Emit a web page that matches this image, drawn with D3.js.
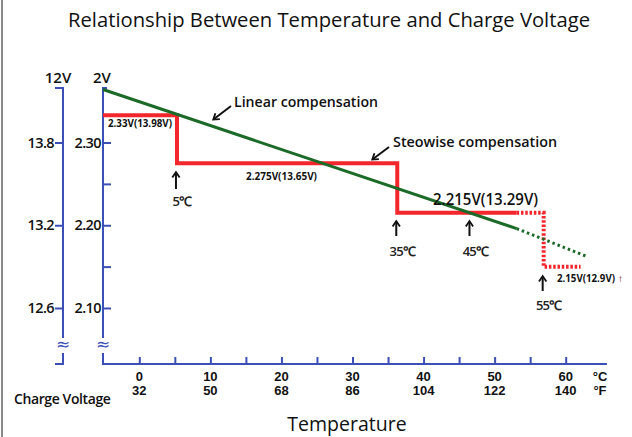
<!DOCTYPE html>
<html><head><meta charset="utf-8">
<script src="https://cdn.jsdelivr.net/npm/d3@7"></script>
<style>
html,body{margin:0;padding:0;background:#fff;}
svg{display:block;font-family:"Open Sans",sans-serif;}
</style></head>
<body>
<svg id="c" width="632" height="437"></svg>
<script>
// ---- data ----
const celsiusTicks = [0, 10, 20, 30, 40, 50, 60];
const fahrenheitTicks = [32, 50, 68, 86, 104, 122, 140];
const minorTempTicks = [0, 5, 10, 15, 20, 25, 30, 35, 40, 45, 50, 55, 60];
const cellVoltTicks = [2.10, 2.15, 2.20, 2.25, 2.30];
const cellVoltLabels = ["2.10", "", "2.20", "", "2.30"];
const batteryTicks = [2.10, 2.20, 2.30];
const batteryLabels = ["12.6", "13.2", "13.8"];
// linear compensation (temperature °C, cell voltage V)
const linearTemps = [-5.1, 53.1];
const linearVolts = [2.364, 2.196];
const linearExtTemps = [53.1, 62.9];
const linearExtVolts = [2.196, 2.1625];
// stepwise compensation
const stepTemps = [-5.1, 5.3, 36.3, 53.1];
const stepVolts = [2.333, 2.275, 2.215, 2.215];
const stepExtTemps = [53.1, 56.9, 62.1];
const stepExtVolts = [2.215, 2.15, 2.15];
// marker arrows
const markerTemps = [5.3, 36.3, 46.6, 56.9];
const markerLabels = ["5℃", "35℃", "45℃", "55℃"];

// ---- layout ----
const svg = d3.select("#c");
const blue = "#3b4fb8", red = "#f2262b", green = "#1b6a27";
const x = d3.scaleLinear().domain([0, 60]).range([139.3, 565.7]);
const y = d3.scaleLinear().domain([2.1, 2.3]).range([308, 142.5]);
const axL = 103, axO = 63, axB = 364, axT = 88, breakTop = 338, breakBot = 353;

// left gray border
svg.append("rect").attr("x", 1).attr("y", 0).attr("width", 2).attr("height", 437).attr("fill", "#8a8a8a");

// title
svg.append("text").attr("x", 329).attr("y", 27).attr("text-anchor", "middle")
  .attr("font-size", 20.5).attr("fill", "#111")
  .attr("textLength", 522).attr("lengthAdjust", "spacingAndGlyphs")
  .text("Relationship Between Temperature and Charge Voltage");

// axes lines
svg.append("path").attr("fill", "none").attr("stroke", blue).attr("stroke-width", 2)
  .attr("d", `M${axO-8},${axT}H${axO}V${breakTop}M${axO},${breakBot}V${axB}H${axO-8}`);
svg.append("path").attr("fill", "none").attr("stroke", blue).attr("stroke-width", 2)
  .attr("d", `M${axL+4},${axT}H${axL}V${breakTop}M${axL},${breakBot}V${axB}H${x(65.8)}`);
[axO, axL].forEach(xx => {
  svg.append("text").attr("x", xx).attr("y", 350).attr("text-anchor", "middle")
    .attr("font-size", 17).attr("fill", blue).attr("font-family", "DejaVu Sans").text("≈");
});

// cell voltage axis
const gL = svg.append("g").attr("transform", `translate(${axL},0)`)
  .call(d3.axisLeft(y).tickValues(cellVoltTicks).tickSize(-8).tickPadding(2)
    .tickFormat((d, i) => cellVoltLabels[i]));
gL.select(".domain").remove();
gL.selectAll(".tick line").attr("stroke", blue).attr("stroke-width", 2);
gL.selectAll(".tick text").attr("font-size", 14.5).attr("font-weight", 600).attr("fill", "#111")
  .attr("font-family", "Open Sans").attr("letter-spacing", -0.6);

// battery axis
const gO = svg.append("g").attr("transform", `translate(${axO},0)`)
  .call(d3.axisLeft(y).tickValues(batteryTicks).tickSize(8).tickPadding(1)
    .tickFormat((d, i) => batteryLabels[i]));
gO.select(".domain").remove();
gO.selectAll(".tick line").attr("stroke", blue).attr("stroke-width", 2);
gO.selectAll(".tick text").attr("font-size", 14.5).attr("font-weight", 600).attr("fill", "#111")
  .attr("font-family", "Open Sans").attr("letter-spacing", -0.6);

svg.append("text").attr("x", 58).attr("y", 83).attr("text-anchor", "middle")
  .attr("font-size", 15).attr("font-weight", 600).attr("fill", "#111").text("12V");
svg.append("text").attr("x", 102).attr("y", 83).attr("text-anchor", "middle")
  .attr("font-size", 15).attr("font-weight", 600).attr("fill", "#111").text("2V");

// temperature axis
const gB = svg.append("g").attr("transform", `translate(0,${axB})`)
  .call(d3.axisBottom(x).tickValues(minorTempTicks).tickSize(-7).tickFormat(""));
gB.select(".domain").remove();
gB.selectAll(".tick line").attr("stroke", blue).attr("stroke-width", 2);

const tl = svg.append("g").attr("font-size", 13).attr("font-weight", 700).attr("fill", "#111")
  .attr("font-family", "Liberation Sans").attr("text-anchor", "middle");
celsiusTicks.forEach((c, i) => {
  tl.append("text").attr("x", x(c)).attr("y", 380.5).text(c);
  tl.append("text").attr("x", x(c)).attr("y", 395.2).text(fahrenheitTicks[i]);
});
tl.append("text").attr("x", 600).attr("y", 380.5).text("°C");
tl.append("text").attr("x", 600).attr("y", 395.2).text("°F");

svg.append("text").attr("x", 14).attr("y", 404).attr("font-size", 14).attr("font-weight", 600)
  .attr("fill", "#111").attr("letter-spacing", -0.4).text("Charge Voltage");
svg.append("text").attr("x", 347).attr("y", 431).attr("text-anchor", "middle")
  .attr("font-size", 19.5).attr("fill", "#111").text("Temperature");

// ---- series ----
const zip = (a, b) => a.map((t, i) => [t, b[i]]);
const line = d3.line().x(d => x(d[0])).y(d => y(d[1]));
const stepLine = d3.line().x(d => x(d[0])).y(d => y(d[1])).curve(d3.curveStepAfter);

svg.append("path").attr("d", stepLine(zip(stepTemps, stepVolts)))
  .attr("fill", "none").attr("stroke", red).attr("stroke-width", 4);
svg.append("path").attr("d", stepLine(zip(stepExtTemps, stepExtVolts)))
  .attr("fill", "none").attr("stroke", red).attr("stroke-width", 4).attr("stroke-dasharray", "2.5,1.8");
svg.append("path").attr("d", line(zip(linearTemps, linearVolts)))
  .attr("fill", "none").attr("stroke", green).attr("stroke-width", 3);
svg.append("path").attr("d", line(zip(linearExtTemps, linearExtVolts)))
  .attr("fill", "none").attr("stroke", green).attr("stroke-width", 3).attr("stroke-dasharray", "2.5,3");

// ---- annotations ----
const defs = svg.append("defs");
defs.append("marker").attr("id", "ah").attr("viewBox", "-6 -6 12 12").attr("markerWidth", 11).attr("markerHeight", 11)
  .attr("markerUnits", "userSpaceOnUse").attr("orient", "auto")
  .append("path").attr("d", "M-5,-4L1,0L-5,4").attr("fill", "none").attr("stroke", "#111").attr("stroke-width", 2);

function arrow(x1, y1, x2, y2) {
  svg.append("line").attr("x1", x1).attr("y1", y1).attr("x2", x2).attr("y2", y2)
    .attr("stroke", "#111").attr("stroke-width", 2).attr("marker-end", "url(#ah)");
}
const markerY = [[189, 173], [236, 222], [236, 222], [291, 277]];
const markerLabelY = [206, 256, 256, 310];
markerTemps.forEach((t, i) => {
  arrow(x(t) - 1, markerY[i][0], x(t) - 1, markerY[i][1]);
  svg.append("text").attr("x", x(t) + 5).attr("y", markerLabelY[i]).attr("text-anchor", "middle")
    .attr("font-size", 13).attr("font-weight", 600).attr("fill", "#222").attr("letter-spacing", -0.8)
    .text(markerLabels[i]);
});

arrow(231, 106, 214, 119);
arrow(389, 147, 373, 159);

svg.append("text").attr("x", 234).attr("y", 107).attr("font-size", 14).attr("font-weight", 600)
  .attr("fill", "#111").attr("textLength", 144).attr("lengthAdjust", "spacingAndGlyphs").text("Linear compensation");
svg.append("text").attr("x", 393).attr("y", 147).attr("font-size", 14).attr("font-weight", 600)
  .attr("fill", "#111").attr("textLength", 164).attr("lengthAdjust", "spacingAndGlyphs").text("Steowise compensation");
svg.append("text").attr("x", 433).attr("y", 205).attr("font-size", 15.5).attr("font-weight", 600)
  .attr("fill", "#111").attr("textLength", 105).attr("lengthAdjust", "spacingAndGlyphs").text("2.215V(13.29V)");

function small(xx, yy, txt, w) {
  return svg.append("text").attr("x", xx).attr("y", yy).attr("font-size", 10).attr("font-weight", 700)
    .attr("fill", "#111").attr("textLength", w).attr("lengthAdjust", "spacingAndGlyphs").text(txt);
}
small(108, 127, "2.33V(13.98V)", 64);
small(246, 180, "2.275V(13.65V)", 71);
small(557, 282, "2.15V(12.9V)", 58);
svg.append("text").attr("x", 618).attr("y", 282).attr("font-size", 10).attr("font-weight", 700)
  .attr("fill", "#8b1010").text("↑");
</script>
</body></html>
